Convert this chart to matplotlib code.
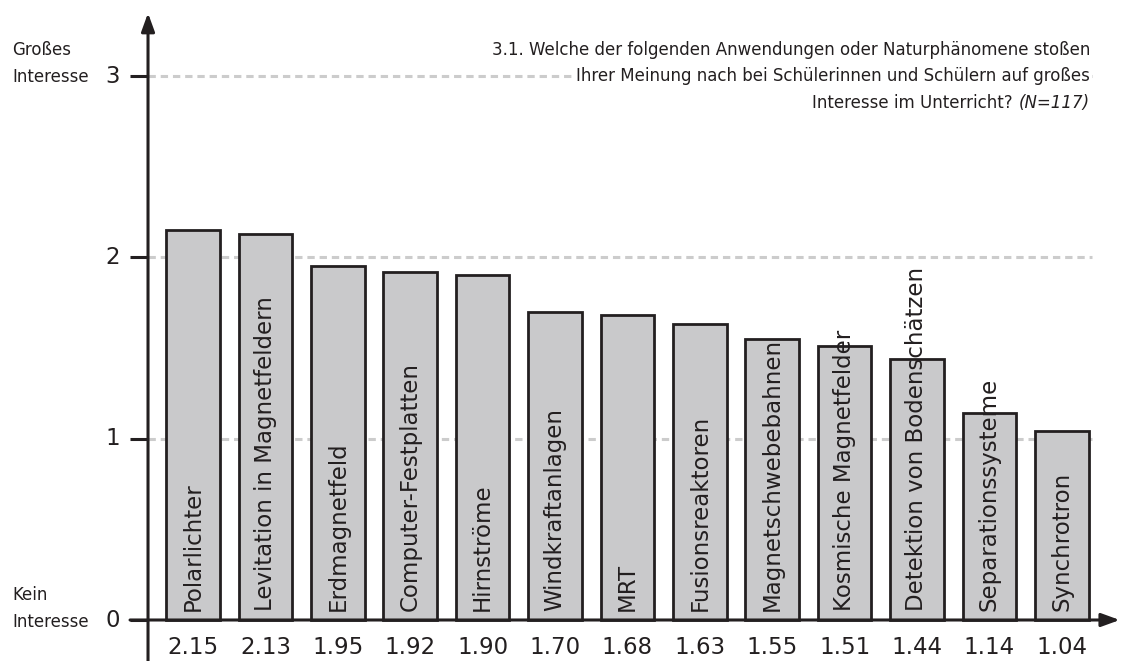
import matplotlib.pyplot as plt
import numpy as np

# Data
labels = ['Polarlichter', 'Levitation in Magnetfeldern', 'Erdmagnetfeld',
          'Computer-Festplatten', 'Hirnströme', 'Windkraftanlagen', 'MRT',
          'Fusionsreaktoren', 'Magnetschwebebahnen', 'Kosmische Magnetfelder',
          'Detektion von Bodenschätzen', 'Separationssysteme', 'Synchrotron']
values = [2.15, 2.13, 1.95, 1.92, 1.90, 1.70, 1.68, 1.63, 1.55, 1.51, 1.44, 1.14, 1.04]
yticks = [0, 1, 2, 3]
title_lines = ['3.1. Welche der folgenden Anwendungen oder Naturphänomene stoßen',
               'Ihrer Meinung nach bei Schülerinnen und Schülern auf großes',
               'Interesse im Unterricht?']
n_text = '(N=117)'

plt.rcParams['font.family'] = 'DejaVu Sans'

dark = '#231f20'
x = np.arange(len(values))

fig = plt.figure(figsize=(11.21, 6.61), dpi=100)
ax = fig.add_axes([0, 0, 1, 1])
ax.axis('off')
ax.set_xlim(-2.666, 12.818)
ax.set_ylim(-0.2261, 3.4192)

yax = -0.6215

# dashed grid lines
for t in yticks[1:]:
    ax.plot([yax, 12.42], [t, t], color='#cccccc', lw=2.2,
            dashes=(2.4, 1.6), zorder=1)

# bars
ax.bar(x, values, width=0.74, color='#c9c9cb', edgecolor=dark,
       linewidth=2.0, zorder=2)

# labels inside bars
for xi, lab in zip(x, labels):
    ax.text(xi, 0.05, lab, rotation=90, rotation_mode='anchor',
            ha='left', va='center', fontsize=16.5, color=dark, zorder=4)

# value labels under the axis
for xi, v in zip(x, values):
    ax.text(xi, -0.154, f'{v:.2f}', ha='center', va='center',
            fontsize=16.5, color=dark)

# axes with arrows
ax.annotate('', xy=(yax, 3.347), xytext=(yax, -0.2261),
            arrowprops=dict(arrowstyle='-|>,head_length=0.55,head_width=0.2',
                            lw=2.2, color=dark, mutation_scale=20,
                            shrinkA=0, shrinkB=0), zorder=5)
ax.annotate('', xy=(12.80, 0), xytext=(-0.87, 0),
            arrowprops=dict(arrowstyle='-|>,head_length=0.55,head_width=0.2',
                            lw=2.2, color=dark, mutation_scale=20,
                            shrinkA=0, shrinkB=0), zorder=5)

# y ticks
for t in yticks:
    ax.plot([-0.87, yax], [t, t], color=dark, lw=2.2, zorder=5,
            solid_capstyle='butt')
    ax.text(-1.01, t, str(t), ha='right', va='center', fontsize=16.5,
            color=dark)

# scale end labels
ax.text(-2.50, 3.143, 'Großes', ha='left', va='center', fontsize=12, color=dark)
ax.text(-2.50, 2.994, 'Interesse', ha='left', va='center', fontsize=12, color=dark)
ax.text(-2.50, 0.138, 'Kein', ha='left', va='center', fontsize=12, color=dark)
ax.text(-2.50, -0.011, 'Interesse', ha='left', va='center', fontsize=12, color=dark)

# question text, top right
box = dict(facecolor='white', edgecolor='none', pad=1.5)
for i, line in enumerate(title_lines[:2]):
    ax.text(12.389, 3.116 - i * 0.146, line, ha='right', va='baseline',
            fontsize=12, color=dark, zorder=6, bbox=box)
y3 = 3.116 - 2 * 0.146
n_label = ax.text(12.389, y3, n_text, ha='right', va='baseline',
                  fontsize=12, style='italic', color=dark, zorder=6)
# put the upright part just left of the italic part
fig.canvas.draw()
bb = n_label.get_window_extent()
x_left = ax.transData.inverted().transform((bb.x0 - 6, 0))[0]
ax.text(x_left, y3, title_lines[2], ha='right', va='baseline',
        fontsize=12, color=dark, zorder=6)

fig.savefig('out.png', dpi=100)
